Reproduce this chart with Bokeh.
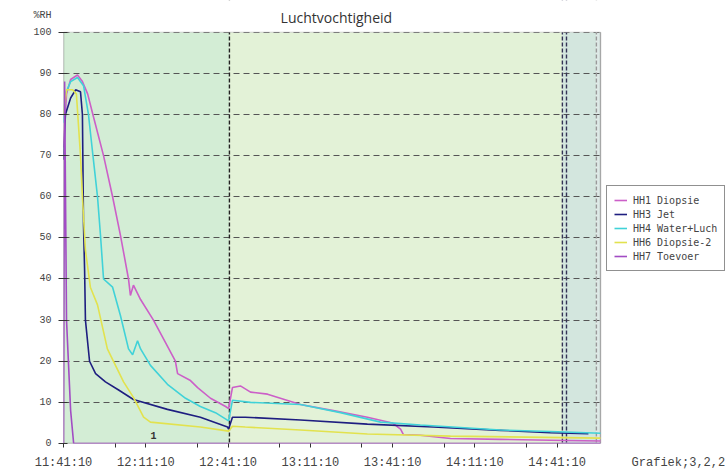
from bokeh.plotting import figure
from bokeh.models import Range1d, FixedTicker, BoxAnnotation, Span, Label, Legend, LegendItem
from bokeh.embed import file_html
from bokeh.resources import INLINE

# ---- data (minutes after 11:41:10, %RH) ----
hh1_t = [0, 1.1, 2.6, 5.1, 6.9, 8.8, 10.9, 14.6, 17.9, 20.8, 23.7, 24.4, 25.5, 28.1, 32.8, 37.2,
         40.8, 41.6, 46.3, 48.9, 53.6, 59.1, 60.2, 61.6, 64.5, 68.2, 74.4, 86.4, 98.4, 110.8,
         119.9, 122.9, 123.9, 130.1, 141.1, 159.3, 177.5, 195.8]
hh1_v = [72, 85, 88.5, 89.6, 88, 85, 79.5, 70, 60, 50.5, 40, 36, 38.5, 35, 30, 24.5,
         20, 17, 15.3, 13.6, 11, 9, 8.5, 13.6, 14, 12.5, 12, 9.5, 8, 6.4,
         5, 3.5, 2.2, 2, 1.2, 1, 0.8, 0.6]

hh3_t = [0, 0.7, 2.6, 4.4, 6.2, 6.9, 7.3, 7.7, 8.0, 9.5, 11.7, 15.3, 20.1, 25.5, 37.9, 49.9,
         59.8, 60.2, 61.6, 66.3, 86.4, 110.8, 134.9, 159.3, 177.5, 191.4]
hh3_v = [69, 80, 84, 86, 85.5, 80, 53, 42, 30, 20, 17, 15, 13, 10.7, 8.3, 6.4,
         4, 3.5, 6.4, 6.4, 5.7, 4.7, 4, 3.2, 2.6, 2.4]

hh4_t = [0, 0.7, 2.6, 5.1, 7.3, 9.1, 10.9, 12.4, 13.5, 14.6, 17.9, 20.8, 23.7, 25.2, 27.0, 28.1,
         31.7, 37.9, 44.5, 49.9, 55.4, 60.2, 61.6, 68.2, 86.4, 101.0, 115.6, 130.1, 159.3, 177.5, 195.8]
hh4_v = [78, 85, 88, 89, 87, 80, 69, 60, 50.5, 40, 38, 31, 23, 21.6, 25, 23,
         19, 14.4, 11, 9, 7.5, 5.5, 10.5, 10, 9.5, 7.5, 5.2, 4.5, 3.3, 2.9, 2.5]

hh6_t = [0, 1.1, 3.3, 4.7, 6.2, 6.9, 8.0, 9.8, 12.4, 16.0, 21.9, 25.5, 29.2, 31.7, 49.9,
         60.2, 61.6, 66.3, 86.4, 110.8, 141.1, 195.8]
hh6_v = [80, 86, 86, 85, 70, 60, 47, 38, 33.7, 23, 15, 11.2, 6.4, 5.2, 4,
         3, 4.2, 4, 3.3, 2.3, 1.8, 1.3]

hh7_t = [0, 0.4, 1.1, 2.6, 3.7, 195.8]
hh7_v = [0, 88, 30, 8, 0, 0]

series_names = ["HH1 Diopsie", "HH3 Jet", "HH4 Water+Luch", "HH6 Diopsie-2", "HH7 Toevoer"]
series_colors = ["#cc5fc8", "#1e1e80", "#40d2d8", "#e2e24e", "#a24cc4"]

x_ticks = [0, 30, 60, 90, 120, 150, 180]
x_tick_labels = ["11:41:10", "12:11:10", "12:41:10", "13:11:10", "13:41:10", "14:11:10", "14:41:10"]
x_minor = [18.83, 48.83, 78.83, 108.83, 138.83, 168.83]
y_ticks = [0, 10, 20, 30, 40, 50, 60, 70, 80, 90, 100]
y_unit_pos, y_unit_text = 104, "%RH"
footer_pos, footer_text = 224.2, "Grafiek;3,2,2"
title_text = "Luchtvochtigheid"

t_end, v_top = 195.8, 100
phase_bounds = [0, 60.5, 181.9, 194.3, 195.8]
phase_colors = ["#d3edd5", "#e3f2d7", "#d3e6de", "#dde9e6"]
event_lines = [60.5, 181.9, 183.4, 194.3]
event_colors = ["#222222", "#333355", "#333355", "#999999"]

W, H = 727, 472
FL, FB = 63, 25            # frame left / bottom border (px)
px_per_min = 537 / t_end
px_per_unit = (H - FB - 32) / v_top
p = figure(width=W, height=H, output_backend="svg", toolbar_location=None, title_location=None,
           x_range=Range1d(0, (W - FL) / px_per_min), y_range=Range1d(0, (H - FB) / px_per_unit),
           min_border_left=FL, min_border_right=0, min_border_top=0, min_border_bottom=FB)
p.background_fill_color = "white"
p.border_fill_color = "white"
p.outline_line_color = None

# phase backgrounds
for i in range(len(phase_colors)):
    p.add_layout(BoxAnnotation(left=phase_bounds[i], right=phase_bounds[i + 1], bottom=0, top=v_top,
                               fill_color=phase_colors[i], fill_alpha=1.0,
                               line_color=None, level="image"))

p.xgrid.visible = False
p.ygrid.grid_line_color = "#555555"
p.ygrid.grid_line_dash = "6 4"
p.ygrid.grid_line_width = 1
p.ygrid.ticker = FixedTicker(ticks=y_ticks)

for xv, c in zip(event_lines, event_colors):
    p.add_layout(Span(location=xv, dimension="height", line_color=c, line_width=1.4,
                      line_dash="4 2", level="underlay"))

# white cover outside the plotting area
p.add_layout(BoxAnnotation(left=t_end, fill_color="white", fill_alpha=1.0, line_color=None, level="underlay"))
p.add_layout(BoxAnnotation(bottom=v_top, fill_color="white", fill_alpha=1.0, line_color=None, level="underlay"))

# plot border
p.add_layout(BoxAnnotation(left=0, right=t_end, bottom=0, top=v_top, fill_color=None, fill_alpha=0,
                           line_color="#777777", line_width=1, level="underlay"))
p.add_layout(BoxAnnotation(left=0, right=0, bottom=0, top=v_top, fill_color=None, fill_alpha=0,
                           line_color="#333333", line_width=1.5, level="underlay"))
p.add_layout(BoxAnnotation(left=0, right=t_end, bottom=0, top=0, fill_color=None, fill_alpha=0,
                           line_color="#333333", line_width=1.5, level="underlay"))
p.add_layout(BoxAnnotation(left=t_end, right=t_end, bottom=0, top=v_top, fill_color=None, fill_alpha=0,
                           line_color="#444444", line_width=1.5, level="underlay"))

# axes
p.xaxis.ticker = FixedTicker(ticks=x_ticks + [footer_pos], minor_ticks=x_ticks + x_minor)
xo = {t: s for t, s in zip(x_ticks, x_tick_labels)}
xo[footer_pos] = footer_text
p.xaxis.major_label_overrides = xo
p.yaxis.ticker = FixedTicker(ticks=y_ticks + [y_unit_pos], minor_ticks=y_ticks)
p.yaxis.major_label_overrides = {y_unit_pos: y_unit_text}
for ax in (p.xaxis[0], p.yaxis[0]):
    ax.axis_line_color = None
    ax.major_tick_line_color = None
    ax.major_tick_out = 0
    ax.major_tick_in = 0
    ax.minor_tick_line_color = "#333333"
    ax.major_label_text_font = "Liberation Mono"
    ax.major_label_text_color = "#444444"
p.xaxis.major_label_text_font_size = "12px"
p.xaxis.minor_tick_in = 0
p.xaxis.minor_tick_out = 4
p.xaxis.major_label_standoff = 8
p.yaxis.major_label_text_font_size = "10px"
p.yaxis.minor_tick_in = 4
p.yaxis.minor_tick_out = 5
p.yaxis.major_label_standoff = 7

data = [(hh1_t, hh1_v), (hh3_t, hh3_v), (hh4_t, hh4_v), (hh6_t, hh6_v), (hh7_t, hh7_v)]
renderers = []
for (t, v), c in zip(data, series_colors):
    renderers.append(p.line(t, v, line_color=c, line_width=1.6))

legend = Legend(items=[LegendItem(label=n, renderers=[r]) for n, r in zip(series_names, renderers)],
                location=(543, 172))
legend.border_line_color = "#222222"
legend.border_line_width = 1
legend.background_fill_color = "white"
legend.background_fill_alpha = 1.0
legend.label_text_font = "DejaVu Sans Mono"
legend.label_text_font_size = "10px"
legend.label_text_color = "#444444"
legend.label_height = 14
legend.glyph_height = 14
legend.glyph_width = 13
legend.label_standoff = 6
legend.spacing = 0
legend.padding = 7
legend.margin = 0
p.add_layout(legend, "center")

p.add_layout(Label(x=99.5, y=103.6, text=title_text, text_align="center",
                   text_baseline="middle", text_font="Open Sans", text_font_size="14px",
                   text_color="#333333"))
p.add_layout(Label(x=32.8, y=2, text="1", text_align="center", text_baseline="middle",
                   text_font="Liberation Mono", text_font_size="10px", text_font_style="bold",
                   text_color="#333333"))

open("out.html", "w").write(file_html(p, INLINE))
